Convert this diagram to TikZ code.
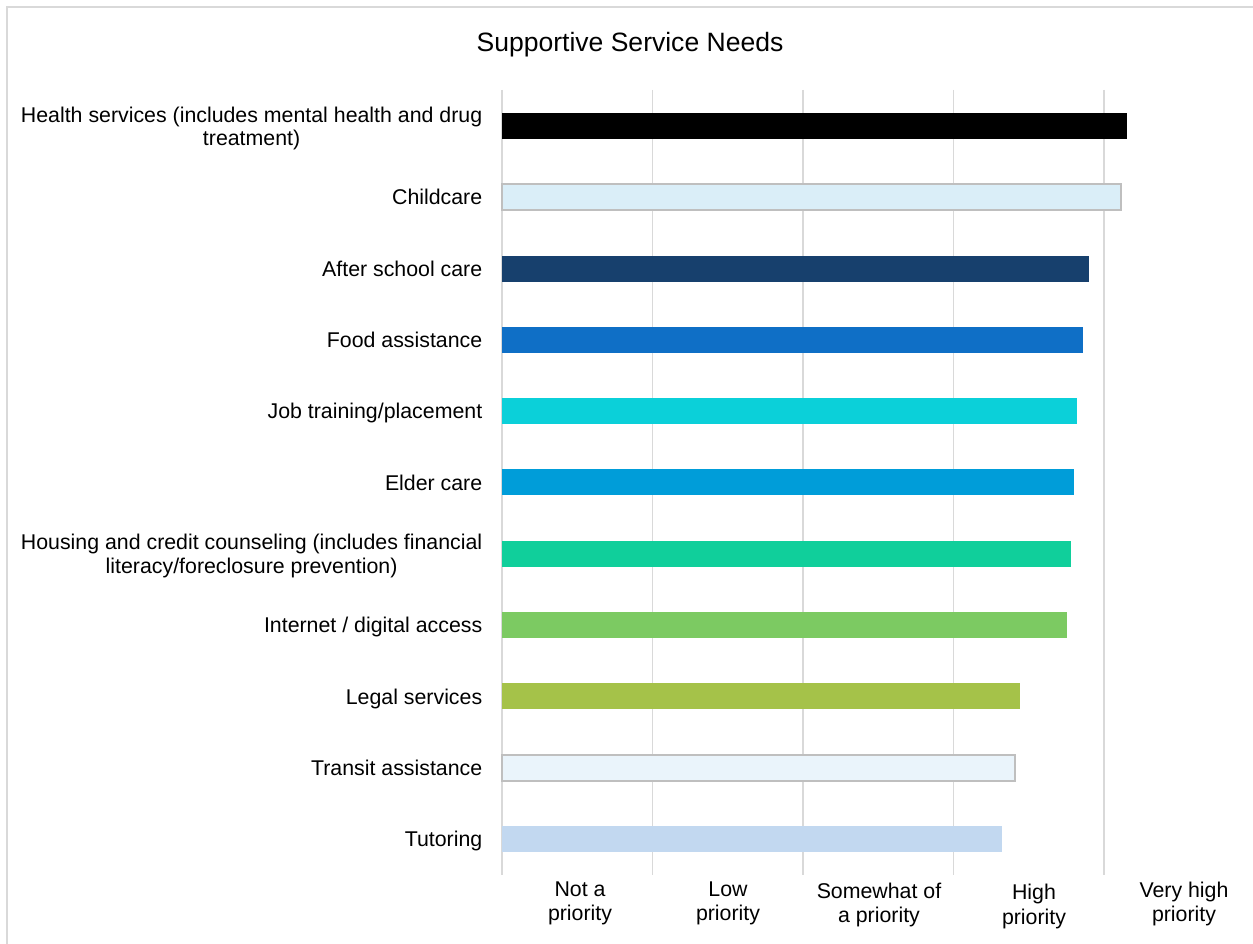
\documentclass[tikz,border=0pt]{standalone}
\usepackage{fontspec}
\setmainfont{Liberation Sans}
\usepackage{xcolor}
\usepackage{tikz}

\definecolor{gridgray}{HTML}{D9D9D9}
\definecolor{edgegray}{HTML}{BFBFBF}
\definecolor{childblue}{HTML}{DAEEF8}
\definecolor{navy}{HTML}{17406D}
\definecolor{foodblue}{HTML}{0F6FC6}
\definecolor{jobcyan}{HTML}{0BD0D9}
\definecolor{elderblue}{HTML}{009DD9}
\definecolor{housegreen}{HTML}{10CF9B}
\definecolor{netgreen}{HTML}{7CCA62}
\definecolor{legalgreen}{HTML}{A5C249}
\definecolor{transitblue}{HTML}{EAF4FB}
\definecolor{tutorblue}{HTML}{C2D8F0}

\begin{document}
\begin{tikzpicture}[x=0.75pt,y=-0.75pt,thin]
                \tikzset{cat/.style={anchor=base east, inner sep=0pt, font=\fontsize{16}{17.6}\selectfont},
                         cattwo/.style={anchor=east, align=center, inner sep=0pt, font=\fontsize{16}{17.6}\selectfont},
                         tick/.style={align=center, inner sep=0pt, font=\fontsize{16}{18.4}\selectfont},
                         grid/.style={draw=gridgray, line width=1.1pt},
                         outlined/.style={draw=edgegray, line width=1.3pt}}

                \useasboundingbox (0,0) rectangle (1253,944);
                \draw[grid] (7,944) -- (7,7) -- (1253,7);

                % gridlines
                \draw[grid] (502,90) -- (502,875);
                \draw[grid] (652.5,90) -- (652.5,875);
                \draw[grid] (803,90) -- (803,875);
                \draw[grid] (953.5,90) -- (953.5,875);
                \draw[grid] (1104,90) -- (1104,875);

                \node[inner sep=0pt, font=\fontsize{19.9}{23}\selectfont] (title) at (630,44.5) {Supportive Service Needs};

                % bars
                \fill[black] (502,113) rectangle (1127,139);
                \filldraw[fill=childblue, outlined] (502,184.3) rectangle (1121,210.3);
                \fill[navy] (502,255.6) rectangle (1089,281.6);
                \fill[foodblue] (502,326.9) rectangle (1083,352.9);
                \fill[jobcyan] (502,398.2) rectangle (1077,424.2);
                \fill[elderblue] (502,469.5) rectangle (1074,495.5);
                \fill[housegreen] (502,540.8) rectangle (1071,566.8);
                \fill[netgreen] (502,612.1) rectangle (1067,638.1);
                \fill[legalgreen] (502,683.4) rectangle (1020,709.4);
                \filldraw[fill=transitblue, outlined] (502,754.7) rectangle (1015,780.7);
                \fill[tutorblue] (502,826) rectangle (1002,852);

                % category labels
                \node[cattwo] (health) at (482.5,128.5) {Health services (includes mental health and drug\\treatment)};
                \node[cat] (child) at (482.5,204.9) {Childcare};
                \node[cat] (after) at (482.5,276.2) {After school care};
                \node[cat] (food) at (482.5,347.5) {Food assistance};
                \node[cat] (job) at (482.5,418.8) {Job training/placement};
                \node[cat] (elder) at (482.5,490.1) {Elder care};
                \node[cattwo] (housing) at (482.5,556) {Housing and credit counseling (includes financial\\literacy/foreclosure prevention)};
                \node[cat] (internet) at (482.5,632.7) {Internet / digital access};
                \node[cat] (legal) at (482.5,704) {Legal services};
                \node[cat] (transit) at (482.5,775.3) {Transit assistance};
                \node[cat] (tutor) at (482.5,846.6) {Tutoring};

                % axis labels
                \node[tick] (notp) at (580,903.5) {Not a\\priority};
                \node[tick] (lowp) at (728,903.5) {Low\\priority};
                \node[tick] (somep) at (879,905) {Somewhat of\\a priority};
                \node[tick] (highp) at (1034,906.5) {High\\priority};
                \node[tick] (veryp) at (1184,904) {Very high\\priority};
\end{tikzpicture}
\end{document}
